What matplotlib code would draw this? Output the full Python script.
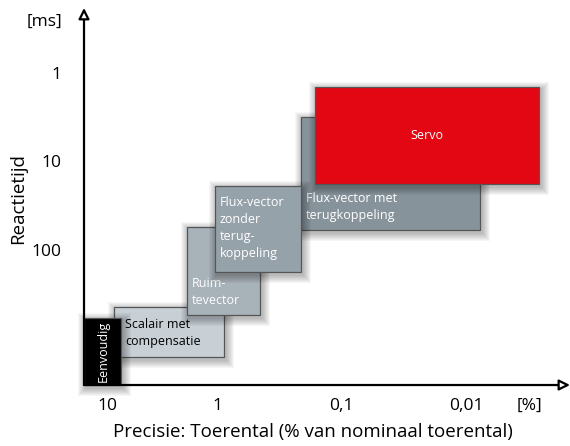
import matplotlib.pyplot as plt
from matplotlib.patches import Rectangle, FancyArrowPatch

plt.rcParams['font.family'] = ['Open Sans', 'DejaVu Sans']

# x: decades of precision (10 % -> -1, 1 % -> 0, 0,1 % -> 1, 0,01 % -> 2)
# y: decades of reaction time (1 ms -> 0, 10 ms -> 1, 100 ms -> 2), pointing down
x_ticks = [-1, -0.08, 0.96, 2]
x_labels = ['10', '1', '0,1', '0,01']
y_ticks = [0, 1, 2]
y_labels = ['1', '10', '100']

names = ['Flux-vector met\nterugkoppeling', 'Servo', 'Scalair met\ncompensatie',
         'Ruim-\ntevector', 'Flux-vector\nzonder\nterug-\nkoppeling', 'Eenvoudig']
x_left = [0.62, 0.74, -0.94, -0.33, -0.10, -1.19]
x_right = [2.12, 2.61, -0.02, 0.28, 0.62, -0.88]
y_top = [0.48, 0.14, 2.62, 1.72, 1.25, 2.75]
y_bottom = [1.75, 1.23, 3.19, 2.71, 2.23, 3.50]
colors = ['#87939b', '#e30613', '#c8d0d6', '#a8b2b9', '#96a2aa', '#000000']
text_colors = ['white', 'white', 'black', 'white', 'white', 'white']

px = 1 / 119.7   # one pixel in x data units
py = 1 / 88.5    # one pixel in y data units

fig = plt.figure(figsize=(5.7, 4.46), dpi=100)
ax = fig.add_axes([0, 0, 1, 1])
ax.set_xlim(-1.894, 2.869)
ax.set_ylim(4.192, -0.847)
ax.axis('off')

x0, y0 = -1.192, 3.503   # origin of the drawn axes
for i, name in enumerate(names):
    l, r, t, b = x_left[i], x_right[i], y_top[i], y_bottom[i]
    z = 2 + i * 2
    # soft shadow
    for k in range(8, 0, -1):
        ax.add_patch(Rectangle((l - k * px + 2 * px, t - k * py + 3 * py),
                               (r - l) + 2 * k * px, (b - t) + 2 * k * py,
                               facecolor='black', edgecolor='none',
                               alpha=0.035, zorder=z))
    ax.add_patch(Rectangle((l, t), r - l, b - t, facecolor=colors[i],
                           edgecolor='#555555', linewidth=0.9, zorder=z + 1))
    if name == 'Servo':
        ax.text((l + r) / 2, (t + b) / 2, name, color='white', fontsize=9,
                ha='center', va='center', zorder=z + 1)
    elif name == 'Eenvoudig':
        ax.text((l + r) / 2, b - 3 * py, name, color='white', fontsize=9,
                rotation=90, ha='center', va='bottom', zorder=z + 1)
    elif name.startswith('Ruim') or name.startswith('Flux-vector met'):
        ax.text(l + 5 * px, b - 8 * py, name, color=text_colors[i], fontsize=9,
                ha='left', va='bottom', linespacing=1.35, zorder=z + 1)
    elif name.startswith('Scalair'):
        ax.text(l + 11 * px, t + 11 * py, name, color=text_colors[i], fontsize=9,
                ha='left', va='top', linespacing=1.4, zorder=z + 1)
    else:
        ax.text(l + 5 * px, t + 10 * py, name, color=text_colors[i], fontsize=9,
                ha='left', va='top', linespacing=1.4, zorder=z + 1)

# axes with open arrow heads
for end in [(2.869, y0), (x0, -0.757)]:
    ax.add_patch(FancyArrowPatch((x0, y0), end, arrowstyle='-|>',
                                 mutation_scale=16, linewidth=1.6,
                                 facecolor='white', edgecolor='black',
                                 shrinkA=0, shrinkB=0, zorder=20))

for x, lab in zip(x_ticks, x_labels):
    ax.text(x, 3.74, lab, fontsize=12.5, ha='center', va='center')
ax.text(2.53, 3.74, '[%]', fontsize=12.5, ha='center', va='center')
for y, lab in zip(y_ticks, y_labels):
    ax.text(-1.38, y, lab, fontsize=12.5, ha='right', va='center')
ax.text(-1.52, -0.60, '[ms]', fontsize=12.5, ha='center', va='center')

ax.text(0.72, 4.03, 'Precisie: Toerental (% van nominaal toerental)',
        fontsize=13.5, ha='center', va='center')
ax.text(-1.74, 1.40, 'Reactietijd', fontsize=13.5, rotation=90,
        ha='center', va='center')

fig.savefig('out.png', dpi=100)
